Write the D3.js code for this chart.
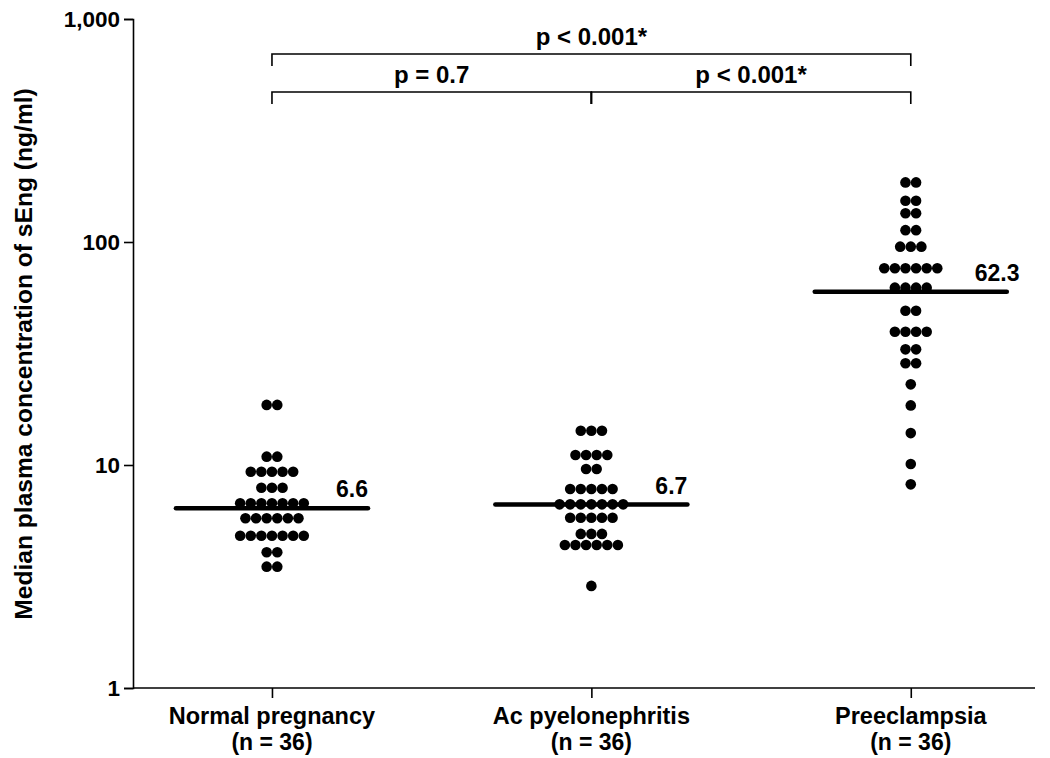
<!DOCTYPE html>
<html>
<head>
<meta charset="utf-8">
<script src="https://cdn.jsdelivr.net/npm/d3@7"></script>
<style>
  html, body { margin: 0; padding: 0; background: #fff; }
  svg text { font-family: Arial, "Liberation Sans", Helvetica, sans-serif; font-weight: bold; fill: #000; }
</style>
</head>
<body>
<svg id="chart" width="1050" height="758"></svg>
<script>
// ---- data ----
const categories = ["Normal pregnancy", "Ac pyelonephritis", "Preeclampsia"];
const groupSizes = ["(n = 36)", "(n = 36)", "(n = 36)"];
const normalValues = [18.6, 18.6, 10.9, 10.9, 9.33, 9.33, 9.33, 9.33, 9.33, 7.91, 7.91, 7.91,
  6.73, 6.73, 6.73, 6.73, 6.73, 6.73, 6.73, 5.77, 5.77, 5.77, 5.77, 5.77, 5.77,
  4.82, 4.82, 4.82, 4.82, 4.82, 4.82, 4.82, 4.06, 4.06, 3.50, 3.50];
const pyeloValues = [14.25, 14.25, 14.25, 11.09, 11.09, 11.09, 11.09, 9.6, 9.6,
  7.80, 7.80, 7.80, 7.80, 7.80, 6.66, 6.66, 6.66, 6.66, 6.66, 6.66, 6.66,
  5.80, 5.80, 5.80, 5.80, 5.80, 4.91, 4.91, 4.91, 4.38, 4.38, 4.38, 4.38, 4.38, 4.38, 2.87];
const preeclampsiaValues = [185, 185, 153, 153, 134.6, 134.6, 113, 113, 95.3, 95.3, 95.3,
  76.2, 76.2, 76.2, 76.2, 76.2, 76.2, 62.4, 62.4, 62.4, 62.4, 49.2, 49.2,
  39.6, 39.6, 39.6, 39.6, 33.0, 33.0, 28.6, 28.6, 23.0, 18.5, 13.9, 10.1, 8.19];
const medianLineValues = [6.4, 6.65, 59.8];
const medianLabels = ["6.6", "6.7", "62.3"];
const yTicks = [1, 10, 100, 1000];
const comparisons = [
  { from: 0, to: 2, label: "p < 0.001*", level: 0 },
  { from: 0, to: 1, label: "p = 0.7", level: 1 },
  { from: 1, to: 2, label: "p < 0.001*", level: 1 }
];
const yTitle = "Median plasma concentration of sEng (ng/ml)";

// ---- layout ----
const svg = d3.select("#chart");
const plotLeft = 133, plotRight = 1035, plotTop = 19, plotBottom = 688;
const x = d3.scalePoint().domain(categories).range([plotLeft, plotRight]).padding(0.412).align(0.528);
const y = d3.scaleLog().domain([1, 1000]).range([plotBottom, plotTop]);
const groups = [normalValues, pyeloValues, preeclampsiaValues];
const dotR = 5.3, dotGap = 10.6;

// axes
const yAxis = d3.axisLeft(y).tickValues(yTicks).tickFormat(d3.format(",")).tickSize(9).tickPadding(4);
const gy = svg.append("g").attr("transform", `translate(${plotLeft},0)`).call(yAxis);
gy.select(".domain").attr("stroke", "#000").attr("stroke-width", 1.6);
gy.selectAll(".tick line").attr("stroke", "#000").attr("stroke-width", 1.6);
gy.selectAll(".tick text").attr("font-size", 22.5).attr("font-family", "Arial, 'Liberation Sans', sans-serif").attr("font-weight", "bold");

const xAxis = d3.axisBottom(x).tickSize(10).tickFormat("");
const gx = svg.append("g").attr("transform", `translate(0,${plotBottom})`).call(xAxis);
gx.select(".domain").attr("d", `M${plotLeft},0H${plotRight}`).attr("stroke", "#000").attr("stroke-width", 1.6);
gx.selectAll(".tick line").attr("stroke", "#000").attr("stroke-width", 1.6);

// category labels
categories.forEach((c, i) => {
  svg.append("text").attr("x", x(c)).attr("y", 724).attr("text-anchor", "middle")
    .attr("font-size", 23.5).text(c);
  svg.append("text").attr("x", x(c)).attr("y", 750).attr("text-anchor", "middle")
    .attr("font-size", 23).text(groupSizes[i]);
});

// y title
svg.append("text")
  .attr("transform", `translate(32,354) rotate(-90)`)
  .attr("text-anchor", "middle").attr("font-size", 24.6).text(yTitle);

// median lines
categories.forEach((c, i) => {
  svg.append("line")
    .attr("x1", x(c) - 96).attr("x2", x(c) + 96)
    .attr("y1", y(medianLineValues[i])).attr("y2", y(medianLineValues[i]))
    .attr("stroke", "#000").attr("stroke-width", 4.6).attr("stroke-linecap", "round");
  svg.append("text")
    .attr("x", x(c) + 64).attr("y", y(medianLineValues[i]) - 11)
    .attr("font-size", 23).text(medianLabels[i]);
});

// dots (beeswarm rows)
categories.forEach((c, i) => {
  const rows = d3.groups(groups[i], d => d);
  rows.forEach(([v, arr]) => {
    const k = arr.length;
    arr.forEach((_, j) => {
      svg.append("circle")
        .attr("cx", x(c) + (j - (k - 1) / 2) * dotGap)
        .attr("cy", y(v)).attr("r", dotR).attr("fill", "#000");
    });
  });
});

// comparison brackets
const levelY = [54, 92];
comparisons.forEach(cmp => {
  const x1 = x(categories[cmp.from]), x2 = x(categories[cmp.to]);
  const ly = levelY[cmp.level];
  svg.append("path")
    .attr("d", `M${x1},${ly + 12}V${ly}H${x2}V${ly + 12}`)
    .attr("fill", "none").attr("stroke", "#000").attr("stroke-width", 1.6);
  svg.append("text").attr("x", (x1 + x2) / 2).attr("y", ly - 9)
    .attr("text-anchor", "middle").attr("font-size", 24).text(cmp.label);
});
svg.append("line").attr("x1", x(categories[1])).attr("x2", x(categories[1]))
  .attr("y1", levelY[1]).attr("y2", levelY[1] + 12).attr("stroke", "#000").attr("stroke-width", 1.6);
</script>
</body>
</html>
